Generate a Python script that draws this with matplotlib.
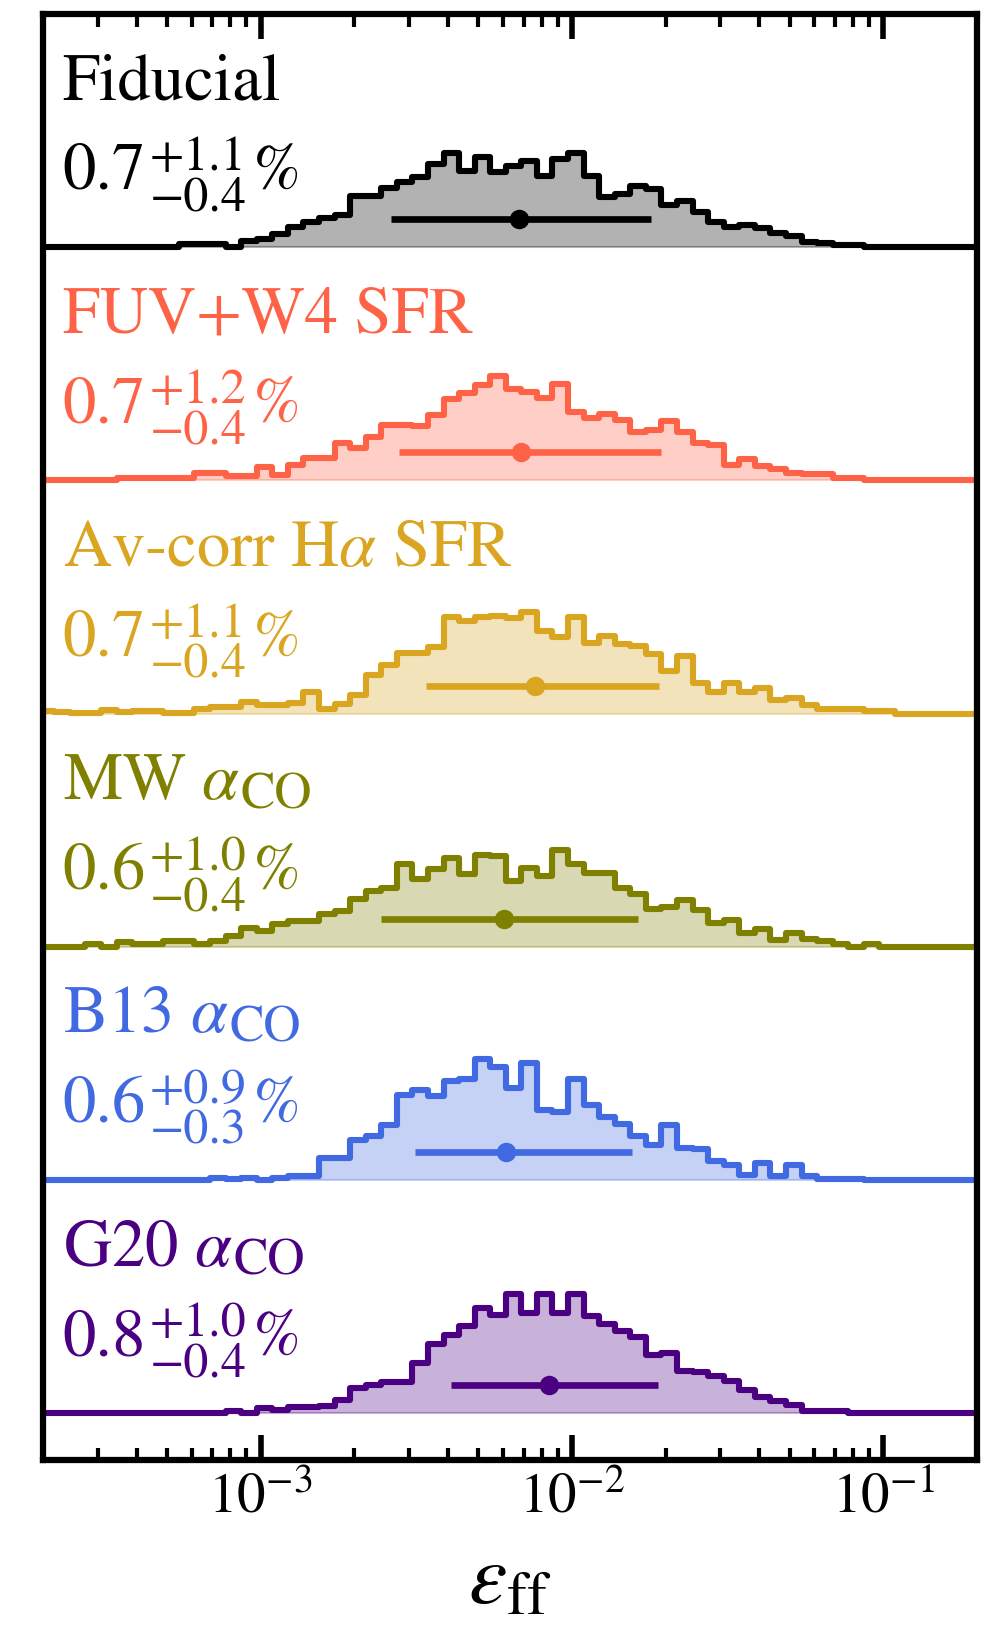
import numpy as np
import matplotlib
matplotlib.use("Agg")
import matplotlib.pyplot as plt
from matplotlib.transforms import blended_transform_factory, offset_copy

plt.rcParams['font.family'] = ['STIXGeneral', 'DejaVu Serif']
plt.rcParams['mathtext.fontset'] = 'stix'

# ---- data ----
log_edge_start = -3.7125
bin_width_dex = 0.05
n_bins = 60

name_main = ['Fiducial', 'FUV+W4 SFR', r'Av-corr H$\alpha$ SFR',
             r'MW $\alpha$', r'B13 $\alpha$', r'G20 $\alpha$']
name_sub = ['', '', '', 'CO', 'CO', 'CO']
val_main = ['0.7', '0.7', '0.7', '0.6', '0.6', '0.8']
val_plus = ['+1.1', '+1.2', '+1.1', '+1.0', '+0.9', '+1.0']
val_minus = ['\u22120.4', '\u22120.4', '\u22120.4', '\u22120.4', '\u22120.3', '\u22120.4']
colors = ['black', '#ff6347', '#daa520', '#808000', '#4169e1', '#4b0082']

fiducial = [0]*9 + [1.4, 1.4, 1.4, 0,
            2.6, 3.6, 5.7, 8.8, 10.7, 12.5, 14.0,
            22.1, 22.1, 25.4, 27.8, 30.2, 35.6, 40.3, 32.8, 38.5, 32.1, 34.9, 37.0,
            30.6, 37.7, 40.3, 30.6, 21.4, 22.8, 26.4, 24.9, 18.1, 19.9, 15.0, 10.7,
            8.8, 9.7, 8.3, 6.0, 4.7, 2.1, 1.7, 1.1, 1.1] + [0]*7
fuv = [0]*5 + [1.0]*5 + [3.1, 3.1, 1.7, 1.7,
       5.7, 2.4, 6.7, 9.5, 9.5, 16.0, 13.8, 18.8, 23.8, 23.8, 23.4, 28.1, 34.8,
       37.3, 40.9, 44.7, 39.2, 38.0, 35.2, 41.5, 29.5, 26.6, 28.5, 25.9, 20.9,
       21.7, 25.6, 20.9, 16.0, 15.2, 6.7, 9.1, 6.3, 4.8, 3.4, 2.8, 2.8, 1.0, 1.0] + [0]*7
avcorr = [1.0, 0.7, 0.4, 0.4, 1.4, 0.7, 1.3, 1.3, 0.4, 0.4, 1.9, 2.7, 2.7, 5.0,
          3.8, 3.8, 4.7, 9.3, 1.9, 4.3, 8.1, 16.4, 20.7, 26.1, 26.1, 28.8, 41.3,
          39.9, 41.3, 42.0, 40.9, 43.4, 35.6, 33.0, 41.3, 30.3, 33.5, 29.9, 29.2,
          25.6, 18.1, 24.9, 13.2, 9.5, 13.2, 9.3, 11.0, 6.0, 6.8, 3.6, 2.1, 2.1,
          2.1, 1.0, 1.0] + [0]*5
mw = [0, 0, 0, 1.1, 0, 1.9, 1.1, 1.1, 2.6, 2.6, 1.4, 2.6, 4.7, 8.0, 6.8, 10.0,
      11.1, 11.1, 14.2, 15.4, 20.4, 23.9, 25.4, 35.6, 29.0, 33.2, 38.2, 31.1,
      39.6, 38.9, 28.2, 33.9, 30.3, 41.7, 35.6, 31.8, 31.5, 25.4, 22.8, 16.1,
      17.1, 20.1, 15.7, 10.4, 11.4, 6.1, 7.5, 2.8, 6.1, 3.3, 2.6, 1.4, 0, 1.1] + [0]*6
b13 = [0]*11 + [1.0, 0.3, 1.0, 0, 1.0, 1.7, 1.7, 9.5, 9.5, 17.4, 18.8, 23.8,
       36.6, 38.7, 36.2, 42.3, 43.3, 51.9, 48.4, 39.5, 50.1, 29.9, 29.1, 43.3,
       32.3, 26.9, 24.1, 18.8, 15.2, 23.8, 13.8, 13.4, 8.1, 6.3, 2.4, 7.4, 1.7,
       6.7, 1.7, 0.6, 0.6, 0.6] + [0]*7
g20 = [0]*12 + [1.1, 0, 2.3, 1.4, 2.6, 2.6, 3.0, 5.8, 10.8, 12.3, 13.4, 13.4,
       21.5, 29.6, 33.6, 37.5, 45.0, 42.2, 51.0, 42.9, 51.0, 42.9, 51.0, 41.9,
       38.2, 35.3, 32.9, 25.1, 25.8, 18.2, 17.9, 16.2, 13.7, 10.1, 6.8, 5.4, 3.7,
       1.1, 1.1, 1.1] + [0]*8
hists = [fiducial, fuv, avcorr, mw, b13, g20]

medians = [6.78e-3, 6.86e-3, 7.59e-3, 6.05e-3, 6.14e-3, 8.41e-3]
lower = [2.63e-3, 2.78e-3, 3.39e-3, 2.43e-3, 3.13e-3, 4.09e-3]
upper = [1.80e-2, 1.93e-2, 1.91e-2, 1.63e-2, 1.56e-2, 1.89e-2]

# ---- plot ----
DPI = 100
fig = plt.figure(figsize=(9.85, 16.34), dpi=DPI)
ax = fig.add_axes([43/985, 1-1460/1634, 934/985, (1460-14)/1634])
ax.set_xscale('log')
ax.set_xlim(2e-4, 0.2)
ax.set_ylim(-0.2, 6.0)
renderer = fig.canvas.get_renderer()

def width_pts(t):
    return t.get_window_extent(renderer=renderer).width * 72.0 / DPI

edges = 10**(log_edge_start + bin_width_dex*np.arange(n_bins+1))
edges_ext = np.concatenate([[1e-5], edges, [10.0]])
tr = blended_transform_factory(ax.transAxes, ax.transData)

FS = 48
SS = 36
n = len(hists)
for k in range(n):
    h, c = hists[k], colors[k]
    med, lo, hi = medians[k], lower[k], upper[k]
    off = n - 1 - k
    vals = np.concatenate([[0], np.array(h, float)/100.0, [0]]) + off
    yy = np.append(vals, vals[-1])
    ax.fill_between(edges_ext, yy, off, step='post', color=c, alpha=0.3, lw=1.5)
    ax.step(edges_ext, yy, where='post', color=c, lw=4.4)
    ax.errorbar([med], [off + 0.12], xerr=[[med - lo], [hi - med]], fmt='o',
                color=c, ms=13, elinewidth=4.8, capsize=0)

    # name label
    x0, yname, yval = 0.021, off + 0.633, off + 0.25
    t = ax.text(x0, yname, name_main[k], color=c, fontsize=FS, transform=tr,
                ha='left', va='baseline')
    if name_sub[k]:
        w = width_pts(t)
        ax.text(x0, yname, name_sub[k], color=c, fontsize=37, ha='left', va='baseline',
                transform=offset_copy(tr, fig=fig, x=w + 0.5, y=-6.5, units='points'))

    # value label: main ^{plus}_{minus} %
    t0 = ax.text(x0, yval, val_main[k], color=c, fontsize=FS, transform=tr,
                 ha='left', va='baseline')
    w0 = width_pts(t0)
    tp = ax.text(x0, yval, val_plus[k], color=c, fontsize=SS, ha='left', va='baseline',
                 transform=offset_copy(tr, fig=fig, x=w0 + 2.5, y=13.5, units='points'))
    tm = ax.text(x0, yval, val_minus[k], color=c, fontsize=SS, ha='left', va='baseline',
                 transform=offset_copy(tr, fig=fig, x=w0 + 2.5, y=-15.5, units='points'))
    ws = max(width_pts(tp), width_pts(tm))
    ax.text(x0, yval, '%', color=c, fontsize=46, ha='left', va='baseline', style='italic',
            transform=offset_copy(tr, fig=fig, x=w0 + 2.5 + ws + 4, y=0, units='points'))

ax.set_yticks([])
for s in ax.spines.values():
    s.set_linewidth(4.5)
ax.tick_params(axis='x', which='both', direction='in', top=True, bottom=True)
ax.tick_params(axis='x', which='major', length=18, width=4.0, labelsize=41, pad=9)
ax.tick_params(axis='x', which='minor', length=9, width=3.0)
ax.set_xlabel(r'$\varepsilon_{\rm ff}$', fontsize=62, labelpad=13)

fig.savefig('out.png', dpi=DPI)
